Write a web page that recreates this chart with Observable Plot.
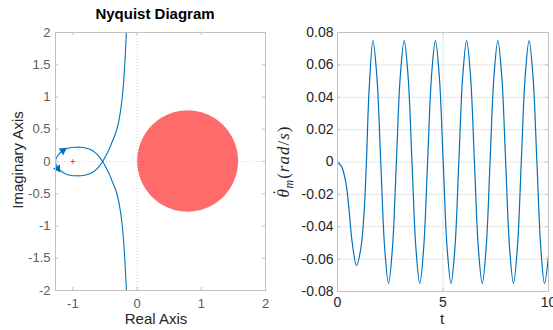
<!DOCTYPE html>
<html><head><meta charset="utf-8">
<script src="https://cdn.jsdelivr.net/npm/d3@7"></script>
<script src="https://cdn.jsdelivr.net/npm/@observablehq/plot@0.6"></script>
<style>
html,body{margin:0;padding:0;background:#fff;}
#wrap{position:relative;width:553px;height:330px;overflow:hidden;font-family:"Liberation Sans",Arial,sans-serif;}
#left{position:absolute;left:0;top:0;}
#right{position:absolute;left:275px;top:0;}
svg{display:block;}
</style></head><body><div id="wrap"><div id="left"></div><div id="right"></div></div>
<script>
// ---------- Nyquist diagram data (path order) ----------
const nyqRe = [
  -0.158,-0.166,-0.176,-0.186,-0.198,-0.212,-0.230,-0.255,-0.290,-0.330,-0.390,-0.430,-0.480,-0.536,
  -0.59,-0.65,-0.72,-0.80,-0.88,-0.96,-1.04,-1.11,-1.175,-1.225,-1.258,-1.272,
  -1.258,-1.225,-1.175,-1.11,-1.04,-0.96,-0.88,-0.80,-0.72,-0.65,-0.59,-0.536,
  -0.480,-0.430,-0.390,-0.330,-0.290,-0.255,-0.230,-0.212,-0.198,-0.186,-0.176,-0.166,-0.158
];
const nyqIm = [
  2.3,2.0,1.8,1.6,1.4,1.2,1.0,0.8,0.6,0.45,0.3,0.2,0.1,0,
  -0.075,-0.137,-0.182,-0.210,-0.222,-0.222,-0.212,-0.192,-0.155,-0.105,-0.052,0,
  0.052,0.105,0.155,0.192,0.212,0.222,0.222,0.210,0.182,0.137,0.075,0,
  -0.1,-0.2,-0.3,-0.45,-0.6,-0.8,-1.0,-1.2,-1.4,-1.6,-1.8,-2.0,-2.3
];
const arrowRe = [-1.155, -1.235];
const arrowIm = [0.17, -0.11];
const arrowAngle = [55, 148];
const criticalRe = [-1];
const criticalIm = [0];
const diskCenterRe = 0.795, diskCenterIm = 0, diskRadius = 0.785;
const nyqXTicks = [-1, 0, 1, 2];
const nyqXTickLabels = ["-1", "0", "1", "2"];
const nyqYTicks = [-2, -1.5, -1, -0.5, 0, 0.5, 1, 1.5, 2];
const nyqYTickLabels = ["-2", "-1.5", "-1", "-0.5", "0", "0.5", "1", "1.5", "2"];

// ---------- time response data ----------
const tVals = [0,0.2,0.4,0.55,0.7,0.9,1.1,1.26,1.37,1.5,
  1.68,1.865,2.05,2.235,2.42,2.605,2.79,2.975,3.16,3.345,3.53,3.715,3.90,4.085,4.27,4.455,
  4.64,4.825,5.01,5.195,5.38,5.565,5.75,5.935,6.12,6.305,6.49,6.675,6.86,7.045,7.23,7.415,
  7.60,7.785,7.97,8.155,8.34,8.525,8.71,8.895,9.08,9.265,9.45,9.635,9.81,10.0];
const wVals = [0,-0.003,-0.013,-0.030,-0.050,-0.064,-0.054,-0.031,0,0.045,
  0.075,0.053,0,-0.053,-0.075,-0.053,0,0.053,0.075,0.053,0,-0.053,-0.075,-0.053,0,0.053,
  0.075,0.053,0,-0.053,-0.075,-0.053,0,0.053,0.075,0.053,0,-0.053,-0.075,-0.053,0,0.053,
  0.075,0.053,0,-0.053,-0.075,-0.053,0,0.053,0.075,0.053,0,-0.053,-0.075,-0.058];
const tTicks = [0, 5, 10];
const tTickLabels = ["0", "5", "10"];
const wTicks = [-0.08,-0.06,-0.04,-0.02,0,0.02,0.04,0.06,0.08];
const wTickLabels = ["-0.08","-0.06","-0.04","-0.02","0","0.02","0.04","0.06","0.08"];

// ---------- build tables ----------
const nyq = nyqRe.map((re, i) => ({re, im: nyqIm[i]}));
const arrows = arrowRe.map((re, i) => ({re, im: arrowIm[i], a: arrowAngle[i]}));
const critical = criticalRe.map((re, i) => ({re, im: criticalIm[i]}));
const disk = d3.range(0, 181).map(k => {
  const th = Math.PI - Math.PI * k / 180;
  return {x: diskCenterRe + diskRadius * Math.cos(th), y1: diskCenterIm - diskRadius * Math.sin(th), y2: diskCenterIm + diskRadius * Math.sin(th)};
});
const resp = tVals.map((t, i) => ({t, w: wVals[i]}));

const lab = (ticks, labels) => d => labels[ticks.findIndex(v => Math.abs(v - d) < 1e-9)];
const BLUE = "#0072bd", FRAME = "#c2c2c2";
const FONT = "Liberation Sans, Arial, Helvetica, sans-serif";

// ---------- left: Nyquist ----------
const LW = 275, LH = 330, LmL = 55, LmR = 10, LmT = 32, LmB = 40;
const lpw = LW - LmL - LmR, lph = LH - LmT - LmB;
const left = Plot.plot({
  width: LW, height: LH, marginLeft: LmL, marginRight: LmR, marginTop: LmT, marginBottom: LmB,
  x: {domain: [-1.27, 2]}, y: {domain: [-2, 2]},
  style: {fontFamily: FONT, fontSize: "13px", color: "#5c5c5c", background: "white"},
  marks: [
    Plot.ruleX([0], {stroke: "#d6d6d6", strokeDasharray: "1,2"}),
    Plot.ruleY([0], {stroke: "#d6d6d6", strokeDasharray: "1,2"}),
    Plot.areaY(disk, {x: "x", y1: "y1", y2: "y2", fill: "#ff6b6b", curve: "linear"}),
    Plot.line(nyq, {x: "re", y: "im", stroke: BLUE, strokeWidth: 1.1, curve: "catmull-rom", clip: true}),
    Plot.dot(arrows, {x: "re", y: "im", rotate: "a", symbol: "triangle", fill: BLUE, stroke: null, r: 3}),
    Plot.dot(critical, {x: "re", y: "im", symbol: "plus", stroke: "red", strokeWidth: 0.7, r: 1.6}),
    Plot.frame({stroke: FRAME}),
    Plot.tickX(nyqXTicks, {x: d => d, stroke: FRAME, insetTop: lph - 3}),
    Plot.tickX(nyqXTicks, {x: d => d, stroke: FRAME, insetBottom: lph - 3}),
    Plot.tickY(nyqYTicks, {y: d => d, stroke: FRAME, insetRight: lpw - 3}),
    Plot.tickY(nyqYTicks, {y: d => d, stroke: FRAME, insetLeft: lpw - 3}),
    Plot.axisX(nyqXTicks, {anchor: "bottom", tickSize: 0, tickPadding: 8, label: null, tickFormat: lab(nyqXTicks, nyqXTickLabels), fontSize: 13}),
    Plot.axisY(nyqYTicks, {anchor: "left", tickSize: 0, tickPadding: 5, label: null, tickFormat: lab(nyqYTicks, nyqYTickLabels), fontSize: 13})
  ]
});
document.getElementById("left").appendChild(left);
{
  const s = d3.select(left);
  s.append("text").attr("x", 155).attr("y", 19).attr("text-anchor", "middle")
    .attr("font-family", FONT).attr("font-size", 15).attr("font-weight", "bold").attr("fill", "#000")
    .text("Nyquist Diagram");
  s.append("text").attr("x", 156).attr("y", 324).attr("text-anchor", "middle")
    .attr("font-family", FONT).attr("font-size", 15).attr("fill", "#262626").text("Real Axis");
  s.append("text").attr("transform", "translate(23,160) rotate(-90)").attr("text-anchor", "middle")
    .attr("font-family", FONT).attr("font-size", 15).attr("fill", "#262626").text("Imaginary Axis");
}

// ---------- right: time response ----------
const RW = 278, RH = 330, RmL = 62, RmR = 5, RmT = 32, RmB = 39;
const rpw = RW - RmL - RmR, rph = RH - RmT - RmB;
const right = Plot.plot({
  width: RW, height: RH, marginLeft: RmL, marginRight: RmR, marginTop: RmT, marginBottom: RmB,
  x: {domain: [0, 10]}, y: {domain: [-0.08, 0.08]},
  style: {fontFamily: FONT, fontSize: "14px", color: "#262626", background: "white", overflow: "visible"},
  marks: [
    Plot.gridY(wTicks, {stroke: "#e6e6e6", strokeOpacity: 1}),
    Plot.gridX(tTicks, {stroke: "#e6e6e6", strokeOpacity: 1}),
    Plot.line(resp, {x: "t", y: "w", stroke: BLUE, strokeWidth: 1.2, curve: "catmull-rom"}),
    Plot.frame({stroke: FRAME}),
    Plot.tickX(tTicks, {x: d => d, stroke: FRAME, insetTop: rph - 3}),
    Plot.tickX(tTicks, {x: d => d, stroke: FRAME, insetBottom: rph - 3}),
    Plot.tickY(wTicks, {y: d => d, stroke: FRAME, insetRight: rpw - 3}),
    Plot.tickY(wTicks, {y: d => d, stroke: FRAME, insetLeft: rpw - 3}),
    Plot.axisX(tTicks, {anchor: "bottom", tickSize: 0, tickPadding: 6, label: null, tickFormat: lab(tTicks, tTickLabels), fontSize: 14}),
    Plot.axisY(wTicks, {anchor: "left", tickSize: 0, tickPadding: 4, label: null, tickFormat: lab(wTicks, wTickLabels), fontSize: 14})
  ]
});
document.getElementById("right").appendChild(right);
{
  const s = d3.select(right);
  s.append("text").attr("x", 167).attr("y", 324).attr("text-anchor", "middle")
    .attr("font-family", FONT).attr("font-size", 15).attr("fill", "#262626").text("t");
  const yl = s.append("text").attr("transform", "translate(14,161.5) rotate(-90)").attr("text-anchor", "middle")
    .attr("font-family", "Liberation Serif, Times New Roman, serif").attr("font-size", 17)
    .attr("letter-spacing", "1px").attr("fill", "#262626");
  yl.append("tspan").attr("font-style", "italic").text("\u03B8");
  yl.append("tspan").attr("dx", -7).attr("dy", -5).text("\u02D9");
  yl.append("tspan").attr("font-style", "italic").attr("font-size", 12).attr("dx", 0).attr("dy", 9).text("m");
  yl.append("tspan").attr("dy", -4).text("(");
  yl.append("tspan").attr("font-style", "italic").text("rad");
  yl.append("tspan").text("/");
  yl.append("tspan").attr("font-style", "italic").text("s");
  yl.append("tspan").text(")");
}
</script></body></html>
